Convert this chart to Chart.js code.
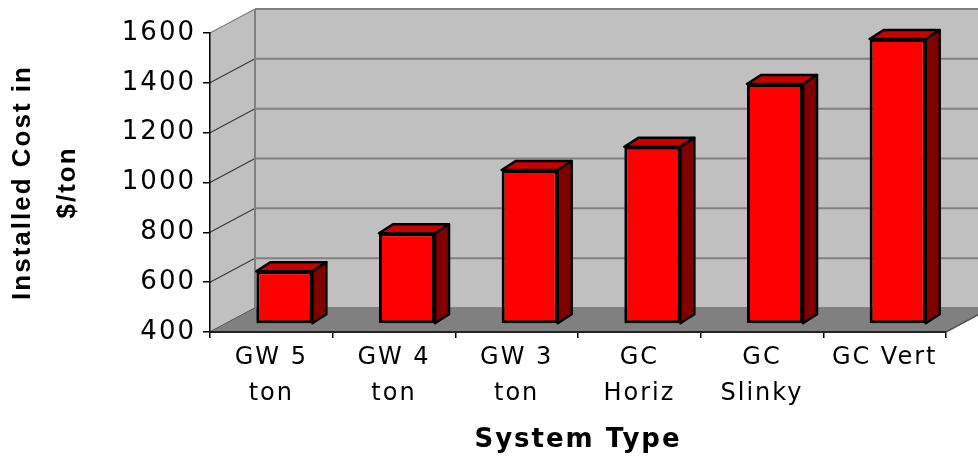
<!DOCTYPE html>
<html>
<head>
<meta charset="utf-8">
<title>Installed Cost by System Type</title>
<script src="https://cdn.jsdelivr.net/npm/chart.js@4.4.1/dist/chart.umd.min.js"></script>
<style>
  html, body { margin: 0; padding: 0; background: #ffffff; }
  #wrap { width: 978px; height: 458px; }
</style>
</head>
<body>
<div id="wrap"><canvas id="chart" width="978" height="458"></canvas></div>
<script>
// Chart data
const categories = [['GW 5', 'ton'], ['GW 4', 'ton'], ['GW 3', 'ton'], ['GC', 'Horiz'], ['GC', 'Slinky'], 'GC Vert'];
const installedCost = [612, 764, 1018, 1111, 1363, 1544];
const costTicks = [400, 600, 800, 1000, 1200, 1400, 1600];
const yTitle = ['Installed Cost in', '$/ton'];
const xTitle = 'System Type';

// Pseudo-3D projection
const DEPTH_X = 45, DEPTH_Y = -24;   // back wall offset from the front plane
const BAR_X = 13, BAR_Y = -8;        // bars stand partway into the box
const BAR_DX = 14, BAR_DY = -9;      // thickness of each bar

const WALL = '#c0c0c0';
const FLOOR = '#808080';
const WALL_EDGE = '#808080';

function poly(ctx, pts) {
  ctx.beginPath();
  ctx.moveTo(pts[0][0], pts[0][1]);
  for (let i = 1; i < pts.length; i++) ctx.lineTo(pts[i][0], pts[i][1]);
  ctx.closePath();
}

const boxPlugin = {
  id: 'box3d',
  beforeDraw(chart) {
    const ctx = chart.ctx;
    const a = chart.chartArea;
    const ys = chart.scales.y;
    const L = a.left, R = a.right, T = a.top, B = a.bottom;
    ctx.save();
    ctx.letterSpacing = '0px';

    // back wall
    ctx.fillStyle = WALL;
    ctx.fillRect(L + DEPTH_X, T + DEPTH_Y, R - L, B - T);
    // left side wall
    poly(ctx, [[L, T], [L + DEPTH_X, T + DEPTH_Y], [L + DEPTH_X, B + DEPTH_Y], [L, B]]);
    ctx.fill();

    // grid lines on back wall and side wall
    costTicks.forEach(v => {
      const py = ys.getPixelForValue(v);
      ctx.strokeStyle = WALL_EDGE;
      ctx.lineWidth = 2;
      ctx.beginPath();
      ctx.moveTo(L + DEPTH_X, py + DEPTH_Y);
      ctx.lineTo(R + DEPTH_X, py + DEPTH_Y);
      ctx.stroke();
      ctx.strokeStyle = v === costTicks[costTicks.length - 1] ? WALL_EDGE : '#3a3a3a';
      ctx.lineWidth = 1.2;
      ctx.beginPath();
      ctx.moveTo(L, py);
      ctx.lineTo(L + DEPTH_X, py + DEPTH_Y);
      ctx.stroke();
    });

    // back wall corner edge
    ctx.strokeStyle = WALL_EDGE;
    ctx.lineWidth = 2;
    ctx.beginPath();
    ctx.moveTo(L + DEPTH_X, T + DEPTH_Y);
    ctx.lineTo(L + DEPTH_X, B + DEPTH_Y);
    ctx.stroke();

    // floor
    ctx.fillStyle = FLOOR;
    poly(ctx, [[L, B], [L + DEPTH_X, B + DEPTH_Y], [R + DEPTH_X, B + DEPTH_Y], [R, B]]);
    ctx.fill();
    ctx.strokeStyle = '#555555';
    ctx.lineWidth = 1.5;
    ctx.beginPath();
    ctx.moveTo(R, B);
    ctx.lineTo(R + DEPTH_X, B + DEPTH_Y);
    ctx.stroke();

    ctx.restore();
    ctx.letterSpacing = '2px';
  },
  beforeDatasetsDraw(chart) {
    const ctx = chart.ctx;
    ctx.save();
    ctx.translate(BAR_X, BAR_Y);
    const meta = chart.getDatasetMeta(0);
    ctx.lineJoin = 'round';
    ctx.lineWidth = 2.5;
    ctx.strokeStyle = '#000000';
    meta.data.forEach(el => {
      const p = el.getProps(['x', 'y', 'base', 'width'], true);
      const l = p.x - p.width / 2, r = p.x + p.width / 2;
      const t = p.y, b = p.base;
      // top face
      poly(ctx, [[l, t], [l + BAR_DX, t + BAR_DY], [r + BAR_DX, t + BAR_DY], [r, t]]);
      ctx.fillStyle = '#c80000';
      ctx.fill();
      ctx.stroke();
      // right face
      poly(ctx, [[r, t], [r + BAR_DX, t + BAR_DY], [r + BAR_DX, b + BAR_DY], [r, b]]);
      ctx.fillStyle = '#800000';
      ctx.fill();
      ctx.stroke();
    });
  },
  afterDatasetsDraw(chart) {
    chart.ctx.restore();
  }
};

new Chart(document.getElementById('chart'), {
  type: 'bar',
  data: {
    labels: categories,
    datasets: [{
      data: installedCost,
      base: costTicks[0],
      backgroundColor: '#ff0000',
      borderColor: '#000000',
      borderWidth: 3,
      borderSkipped: false,
      categoryPercentage: 1,
      barPercentage: 0.457,
      clip: false
    }]
  },
  options: {
    responsive: false,
    animation: false,
    devicePixelRatio: 1,
    layout: { padding: { left: 0, right: 32, top: 33, bottom: 0 } },
    plugins: { legend: { display: false }, tooltip: { enabled: false } },
    scales: {
      x: {
        offset: true,
        grid: { drawOnChartArea: false, drawTicks: true, tickLength: 6, color: '#000000', lineWidth: 1.5, offset: true },
        border: { display: true, color: '#222222', width: 2 },
        ticks: {
          color: '#000000',
          font: { family: 'DejaVu Sans', size: 24, lineHeight: 1.5 },
          padding: 2,
          autoSkip: false,
          maxRotation: 0,
          minRotation: 0
        },
        title: {
          display: true,
          text: xTitle,
          color: '#000000',
          font: { family: 'DejaVu Sans', size: 26, weight: 'bold', lineHeight: 1.2 },
          padding: { top: 0, bottom: 2 }
        },
        afterFit(scale) {
          scale.height = 126;
          scale.paddingLeft = 0;
          scale.paddingRight = 0;
        }
      },
      y: {
        min: 400,
        max: 1600,
        afterBuildTicks(scale) {
          scale.ticks = costTicks.map(v => ({ value: v }));
        },
        grid: { drawOnChartArea: false, drawTicks: true, tickLength: 7, color: '#000000', lineWidth: 1.5 },
        border: { display: true, color: '#000000', width: 1.5 },
        ticks: {
          color: '#000000',
          font: { family: 'DejaVu Sans', size: 26 },
          padding: 7,
          callback: v => String(v)
        },
        title: {
          display: true,
          text: yTitle,
          color: '#000000',
          font: { family: 'Liberation Sans', size: 26, weight: 'bold', lineHeight: 1.73 },
          padding: { top: 0, bottom: 0 }
        },
        afterFit(scale) {
          scale.width = 210;
          scale.paddingTop = 0;
          scale.paddingBottom = 0;
        }
      }
    }
  },
  plugins: [boxPlugin]
});
</script>
</body>
</html>
